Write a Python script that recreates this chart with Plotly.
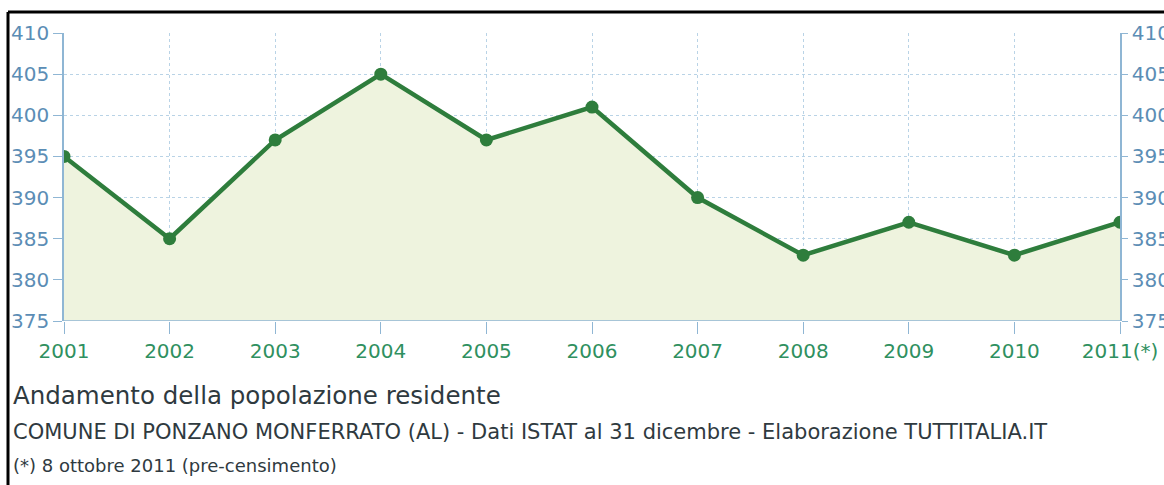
import plotly.graph_objects as go

years = [2001, 2002, 2003, 2004, 2005, 2006, 2007, 2008, 2009, 2010, 2011]
year_labels = ["2001", "2002", "2003", "2004", "2005", "2006", "2007", "2008", "2009", "2010", "2011(*)"]
population = [395, 385, 397, 405, 397, 401, 390, 383, 387, 383, 387]
y_ticks = [375, 380, 385, 390, 395, 400, 405, 410]

W, H = 1164, 485
L, R, T, B = 64, 44, 33, 164
PW, PH = W - L - R, H - T - B


def px(x):
    return (x - L) / PW


def py(y):
    return (H - B - y) / PH


AXIS = "#8fb6d4"
GRID = "#b9d3e6"
LABEL_Y = "#5b8db5"
LABEL_X = "#2f9060"
LINE = "#2e7d3c"
FILL = "#eef3de"
TEXT = "#2f3a3f"
FONT = "DejaVu Sans, Liberation Sans, sans-serif"

fig = go.Figure()

fig.add_trace(go.Scatter(
    x=years, y=population, mode="lines+markers",
    line=dict(color=LINE, width=4.5),
    marker=dict(color=LINE, size=13),
    fill="tozeroy", fillcolor=FILL,
    showlegend=False, hoverinfo="x+y",
))
# invisible copy to show the right-hand axis
fig.add_trace(go.Scatter(
    x=years, y=population, yaxis="y2", mode="lines",
    line=dict(width=0), opacity=0, showlegend=False, hoverinfo="skip",
))

fig.update_layout(
    width=W, height=H,
    margin=dict(l=L, r=R, t=T, b=B, pad=0, autoexpand=False),
    plot_bgcolor="white", paper_bgcolor="white",
    font=dict(family=FONT),
    xaxis=dict(
        range=[2001, 2011], tickvals=years, ticktext=year_labels,
        showgrid=True, gridcolor=GRID, griddash="dot", gridwidth=1,
        showline=False, zeroline=False, automargin=False,
        ticks="outside", ticklen=12, tickcolor=AXIS,
        tickfont=dict(size=20, color=LABEL_X),
    ),
    yaxis=dict(
        range=[375, 410], tickvals=y_ticks,
        showgrid=True, gridcolor=GRID, griddash="dot", gridwidth=1,
        showline=True, linecolor=AXIS, linewidth=1.5, zeroline=False,
        automargin=False, ticks="outside", ticklen=9, tickcolor=AXIS,
        tickfont=dict(size=20, color=LABEL_Y),
    ),
    yaxis2=dict(
        range=[375, 410], tickvals=y_ticks, overlaying="y", side="right",
        showgrid=False, showline=True, linecolor=AXIS, linewidth=1.5,
        zeroline=False, automargin=False, ticks="outside", ticklen=6, tickcolor=AXIS,
        tickfont=dict(size=20, color=LABEL_Y),
    ),
    shapes=[
        dict(type="line", xref="paper", yref="y", x0=0, x1=1, y0=375, y1=375,
             line=dict(color=AXIS, width=1.5)),
        dict(type="line", xref="paper", yref="paper", x0=px(8), x1=px(W), y0=py(12), y1=py(12),
             line=dict(color="black", width=3)),
        dict(type="line", xref="paper", yref="paper", x0=px(8), x1=px(8), y0=py(12), y1=py(H),
             line=dict(color="black", width=3)),
    ],
    annotations=[
        dict(text="Andamento della popolazione residente", xref="paper", yref="paper",
             x=px(11), y=py(395), xanchor="left", yanchor="middle", showarrow=False,
             font=dict(size=24.5, color=TEXT)),
        dict(text="COMUNE DI PONZANO MONFERRATO (AL) - Dati ISTAT al 31 dicembre - Elaborazione TUTTITALIA.IT",
             xref="paper", yref="paper", x=px(11), y=py(432), xanchor="left", yanchor="middle",
             showarrow=False, font=dict(size=21, color=TEXT)),
        dict(text="(*) 8 ottobre 2011 (pre-censimento)", xref="paper", yref="paper",
             x=px(11), y=py(465), xanchor="left", yanchor="middle", showarrow=False,
             font=dict(size=18, color=TEXT)),
    ],
)

fig.write_html(
    "out.html",
    config={"displayModeBar": False},
    post_script="document.body.style.margin='0';document.body.style.overflow='hidden';",
)
